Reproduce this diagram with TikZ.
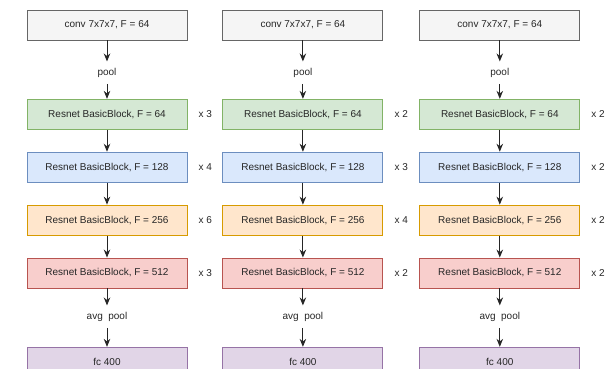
\documentclass[tikz,border=0pt]{standalone}
\usepackage{fontspec}
\setmainfont{Liberation Sans}
\usepackage{xcolor}
\usetikzlibrary{arrows.meta, positioning}

\definecolor{convfill}{HTML}{F5F5F5}
\definecolor{convdraw}{HTML}{666666}
\definecolor{greenfill}{HTML}{D5E8D4}
\definecolor{greendraw}{HTML}{82B366}
\definecolor{bluefill}{HTML}{DAE8FC}
\definecolor{bluedraw}{HTML}{6C8EBF}
\definecolor{orangefill}{HTML}{FFE6CC}
\definecolor{orangedraw}{HTML}{D79B00}
\definecolor{redfill}{HTML}{F8CECC}
\definecolor{reddraw}{HTML}{B85450}
\definecolor{purplefill}{HTML}{E1D5E7}
\definecolor{purpledraw}{HTML}{9673A6}

\begin{document}
\begin{tikzpicture}[x=1pt, y=1pt, every node/.style={font=\fontsize{10}{12}\selectfont, text=black!85}]
    \tikzstyle{layer} = [rectangle, line width=0.9pt, minimum width=160pt, minimum height=30pt, inner sep=0pt, align=center]
    \tikzstyle{conv} = [layer, draw=convdraw, fill=convfill]
    \tikzstyle{res64} = [layer, draw=greendraw, fill=greenfill]
    \tikzstyle{res128} = [layer, draw=bluedraw, fill=bluefill]
    \tikzstyle{res256} = [layer, draw=orangedraw, fill=orangefill]
    \tikzstyle{res512} = [layer, draw=reddraw, fill=redfill]
    \tikzstyle{fc} = [layer, draw=purpledraw, fill=purplefill]
    \tikzstyle{op} = [minimum height=22pt, inner sep=0pt, text height=7pt, text depth=2pt]
    \tikzstyle{reps} = [inner sep=0pt]
    \tikzstyle{flow} = [-{Stealth[length=8pt, width=6.5pt]}, line width=1pt, black!85]

    \useasboundingbox (0,0) rectangle (611,-369);

    % first network
    \node[conv] (convA) at (107,-25) {conv 7x7x7, F = 64};
    \node[op, below=21pt of convA] (poolA) {pool};
    \node[res64, below=15pt of poolA] (blkA1) {Resnet BasicBlock, F = 64};
    \node[res128, below=22pt of blkA1] (blkA2) {Resnet BasicBlock, F = 128};
    \node[res256, below=22pt of blkA2] (blkA3) {Resnet BasicBlock, F = 256};
    \node[res512, below=22pt of blkA3] (blkA4) {Resnet BasicBlock, F = 512};
    \node[op, below=17pt of blkA4] (avgA) {avg~~pool};
    \node[fc, below=19pt of avgA] (fcA) {fc 400};
    \node[reps, right=11pt of blkA1] (nA1) {x 3};
    \node[reps, right=11pt of blkA2] (nA2) {x 4};
    \node[reps, right=11pt of blkA3] (nA3) {x 6};
    \node[reps, right=11pt of blkA4] (nA4) {x 3};

    % second network
    \node[conv, right=35pt of convA] (convB) {conv 7x7x7, F = 64};
    \node[op, below=21pt of convB] (poolB) {pool};
    \node[res64, below=15pt of poolB] (blkB1) {Resnet BasicBlock, F = 64};
    \node[res128, below=22pt of blkB1] (blkB2) {Resnet BasicBlock, F = 128};
    \node[res256, below=22pt of blkB2] (blkB3) {Resnet BasicBlock, F = 256};
    \node[res512, below=22pt of blkB3] (blkB4) {Resnet BasicBlock, F = 512};
    \node[op, below=17pt of blkB4] (avgB) {avg~~pool};
    \node[fc, below=19pt of avgB] (fcB) {fc 400};
    \node[reps, right=11pt of blkB1] (nB1) {x 2};
    \node[reps, right=11pt of blkB2] (nB2) {x 3};
    \node[reps, right=11pt of blkB3] (nB3) {x 4};
    \node[reps, right=11pt of blkB4] (nB4) {x 2};

    % third network
    \node[conv, right=36pt of convB] (convC) {conv 7x7x7, F = 64};
    \node[op, below=21pt of convC] (poolC) {pool};
    \node[res64, below=15pt of poolC] (blkC1) {Resnet BasicBlock, F = 64};
    \node[res128, below=22pt of blkC1] (blkC2) {Resnet BasicBlock, F = 128};
    \node[res256, below=22pt of blkC2] (blkC3) {Resnet BasicBlock, F = 256};
    \node[res512, below=22pt of blkC3] (blkC4) {Resnet BasicBlock, F = 512};
    \node[op, below=17pt of blkC4] (avgC) {avg~~pool};
    \node[fc, below=19pt of avgC] (fcC) {fc 400};
    \node[reps, right=11pt of blkC1] (nC1) {x 2};
    \node[reps, right=11pt of blkC2] (nC2) {x 2};
    \node[reps, right=11pt of blkC3] (nC3) {x 2};
    \node[reps, right=11pt of blkC4] (nC4) {x 2};

    \draw[flow] (convA) -- (poolA);
    \draw[flow] (poolA) -- (blkA1);
    \draw[flow] (blkA1) -- (blkA2);
    \draw[flow] (blkA2) -- (blkA3);
    \draw[flow] (blkA3) -- (blkA4);
    \draw[flow] (blkA4) -- (avgA);
    \draw[flow] (avgA) -- (fcA);

    \draw[flow] (convB) -- (poolB);
    \draw[flow] (poolB) -- (blkB1);
    \draw[flow] (blkB1) -- (blkB2);
    \draw[flow] (blkB2) -- (blkB3);
    \draw[flow] (blkB3) -- (blkB4);
    \draw[flow] (blkB4) -- (avgB);
    \draw[flow] (avgB) -- (fcB);

    \draw[flow] (convC) -- (poolC);
    \draw[flow] (poolC) -- (blkC1);
    \draw[flow] (blkC1) -- (blkC2);
    \draw[flow] (blkC2) -- (blkC3);
    \draw[flow] (blkC3) -- (blkC4);
    \draw[flow] (blkC4) -- (avgC);
    \draw[flow] (avgC) -- (fcC);
\end{tikzpicture}
\end{document}
